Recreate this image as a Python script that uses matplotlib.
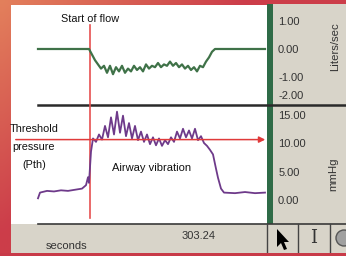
import matplotlib
matplotlib.use('Agg')
import matplotlib.pyplot as plt
import matplotlib.transforms as mtransforms
from matplotlib.patches import Rectangle, Polygon, Circle
import numpy as np

# ====== Dati ======
# tempo in secondi (relativo all'inizio della finestra visibile)
flow_t = [2.7, 7.8, 8.1, 8.4, 8.7, 9.0, 9.3, 9.6, 9.9, 10.2, 10.5, 10.8, 11.1,
          11.4, 11.7, 12.0, 12.3, 12.6, 12.9, 13.2, 13.5, 13.8, 14.1, 14.4,
          14.7, 15.0, 15.3, 15.6, 15.9, 16.2, 16.5, 16.8, 17.1, 17.4, 17.7,
          18.0, 18.3, 18.6, 18.9, 19.2, 19.5, 19.8, 20.1, 20.4, 25.4]
# flusso (Liters/sec)
flow = [0.0, 0.0, -0.2, -0.4, -0.55, -0.7, -0.6, -0.85, -0.6, -0.9, -0.65,
        -0.8, -0.6, -0.85, -0.7, -0.8, -0.6, -0.75, -0.65, -0.8, -0.55, -0.7,
        -0.6, -0.65, -0.5, -0.65, -0.55, -0.6, -0.45, -0.6, -0.5, -0.65,
        -0.55, -0.7, -0.6, -0.75, -0.65, -0.8, -0.6, -0.65, -0.45, -0.3,
        -0.1, 0.0, 0.0]

press_t = [2.7, 2.9, 3.6, 4.3, 5.0, 5.7, 6.4, 7.1, 7.5, 7.7, 7.8, 8.0,
           8.2, 8.5, 8.8, 9.1, 9.4, 9.7, 10.0, 10.3, 10.6, 10.9, 11.2, 11.5,
           11.8, 12.1, 12.4, 12.7, 13.0, 13.3, 13.6, 13.9, 14.2, 14.5, 14.8,
           15.1, 15.4, 15.7, 16.0, 16.3, 16.6, 16.9, 17.2, 17.5, 17.8, 18.1,
           18.4, 18.7, 19.0, 19.3, 19.6, 19.9, 20.2,
           20.5, 20.7, 21.0, 21.3, 22.4, 23.4, 24.4, 25.4]
# pressione (mmHg)
pressure = [0.3, 1.3, 1.6, 1.5, 1.7, 1.6, 1.8, 2.0, 2.6, 4.0, 3.0, 8.5,
            10.8, 10.2, 11.5, 10.6, 13.0, 11.0, 14.5, 11.5, 15.5, 11.8, 14.8,
            11.2, 13.5, 10.8, 13.0, 10.5, 12.0, 10.2, 11.5, 9.8, 11.0, 9.6,
            10.8, 9.5, 10.5, 9.8, 11.0, 10.2, 12.0, 10.8, 12.5, 11.0, 12.2,
            10.8, 12.5, 10.5, 11.2, 10.0, 9.5, 8.8, 8.0,
            5.5, 3.9, 2.0, 1.3, 1.2, 1.4, 1.2, 1.3]

flow_ticks = [1.0, 0.0, -1.0, -1.65]
flow_labels = ['1.00', '0.00', '-1.00', '-2.00']
press_ticks = [15, 10, 5, 0]
press_labels = ['15.00', '10.00', '5.00', '0.00']

t_start_flow = 7.9      # linea verticale "Start of flow"
threshold = 10.6        # soglia Pth (mmHg)
time_label = '303.24'

# ====== Figura ======
W, H = 346, 256
FONT = ['Liberation Sans Narrow', 'Liberation Sans', 'DejaVu Sans']
fig = plt.figure(figsize=(W / 100, H / 100), dpi=100)


def px_axes(x0, y0, x1, y1):
    # crea un asse a partire da coordinate in pixel (origine in alto a sinistra)
    return fig.add_axes([x0 / W, 1 - y1 / H, (x1 - x0) / W, (y1 - y0) / H])


# tela di sfondo in pixel
cv = px_axes(0, 0, W, H)
cv.set_xlim(0, W)
cv.set_ylim(H, 0)
cv.axis('off')

# sfondo rosso/arancio sfumato
gx, gy = np.meshgrid(np.linspace(0, 1, 60), np.linspace(0, 1, 60))
w = np.clip(1 - (gx * 1.4 + gy * 1.1), 0, 1)[..., None]
orange = np.array([0.89, 0.50, 0.36])
crimson = np.array([0.80, 0.24, 0.29])
cv.imshow(w * orange + (1 - w) * crimson, extent=(0, W, H, 0), aspect='auto',
          zorder=0, interpolation='bilinear')

beige = '#d8d4c9'
cv.add_patch(Rectangle((11, 5), 256, 219, facecolor='white', zorder=1))
cv.add_patch(Rectangle((273, 4), 73, 220, facecolor=beige, zorder=1))
cv.add_patch(Rectangle((267, 4), 6, 220, facecolor='#2f6b47', zorder=2))
cv.add_patch(Rectangle((11, 224), 335, 29, facecolor=beige, zorder=1))
cv.plot([38, 346], [105, 105], color='#2a2a2a', lw=1.8, zorder=3)
cv.plot([38, 346], [224, 224], color='#3a3a3a', lw=1.2, zorder=3)

# icone in basso a destra
for xs in [267, 298, 330]:
    cv.plot([xs, xs], [224, 253], color='#444444', lw=1.0, zorder=3)
cv.add_patch(Polygon([(277, 229), (277, 247), (281, 243), (284, 250), (287, 249),
                      (284, 242), (289, 242)], closed=True, facecolor='black',
                     zorder=4))
cv.text(314, 238, 'I', fontsize=13, family='DejaVu Serif', color='#333333',
        ha='center', va='center', zorder=4)
cv.add_patch(Circle((344, 238), 8, facecolor='#a0a0a0', edgecolor='#555555',
                    lw=1, zorder=4))

# testi
cv.text(90, 19, 'Start of flow', fontsize=7.8, family=FONT, color='#111111',
        ha='center', va='center', zorder=5)
cv.text(34, 147, 'Threshold\npressure\n(Pth)', fontsize=7.8, family=FONT,
        color='#111111', ha='center', va='center', linespacing=2.0, zorder=5)
cv.text(152, 168, 'Airway vibration', fontsize=8, family=FONT,
        color='#111111', ha='center', va='center', zorder=5)
cv.text(199, 236, time_label, fontsize=8, family=FONT, color='#333333',
        ha='center', va='center', zorder=5)
cv.text(67, 246, 'seconds', fontsize=8, family=FONT, color='#333333',
        ha='center', va='center', zorder=5)
cv.text(335, 47, 'Liters/sec', fontsize=8.2, family=FONT, color='#333333',
        rotation=90, ha='center', va='center', zorder=5)
cv.text(333, 174, 'mmHg', fontsize=8.2, family=FONT, color='#333333',
        rotation=90, ha='center', va='center', zorder=5)
# bordo rosso in basso
cv.add_patch(Rectangle((0, 253), W, 3, facecolor='#c83a48', zorder=6))

# ====== Tracce ======
ax_f = px_axes(11, 5, 267, 105)
ax_p = px_axes(11, 105, 267, 224)
for ax in (ax_f, ax_p):
    ax.set_facecolor('none')
    for s in ax.spines.values():
        s.set_visible(False)
    ax.set_xlim(0, 25.6)
    ax.set_xticks([])
    ax.yaxis.tick_right()
    ax.tick_params(axis='y', length=0, pad=8, labelsize=8, labelcolor='#333333')

ax_f.set_ylim(-2.0, 1.571)
ax_f.set_yticks(flow_ticks, flow_labels)
ax_p.set_ylim(-4.21, 16.67)
ax_p.set_yticks(press_ticks, press_labels)
for lab in ax_f.get_yticklabels() + ax_p.get_yticklabels():
    lab.set_family(FONT)

ax_f.plot(flow_t, flow, color='#3f7248', lw=1.6)
ax_p.plot(press_t, pressure, color='#6e3a8a', lw=1.3)

# soglia: freccia rossa orizzontale
ax_p.annotate('', xy=(25.7, threshold), xytext=(0.2, threshold),
              arrowprops=dict(arrowstyle='-|>', color='#e03a3a', lw=1.1,
                              mutation_scale=9),
              annotation_clip=False)

# linea verticale "Start of flow" su entrambi i pannelli
tr = mtransforms.blended_transform_factory(ax_f.transData, cv.transData)
cv.plot([t_start_flow, t_start_flow], [25, 218], color='#e65050', lw=1.2,
        transform=tr, zorder=4)

fig.savefig('out.png', dpi=100)
